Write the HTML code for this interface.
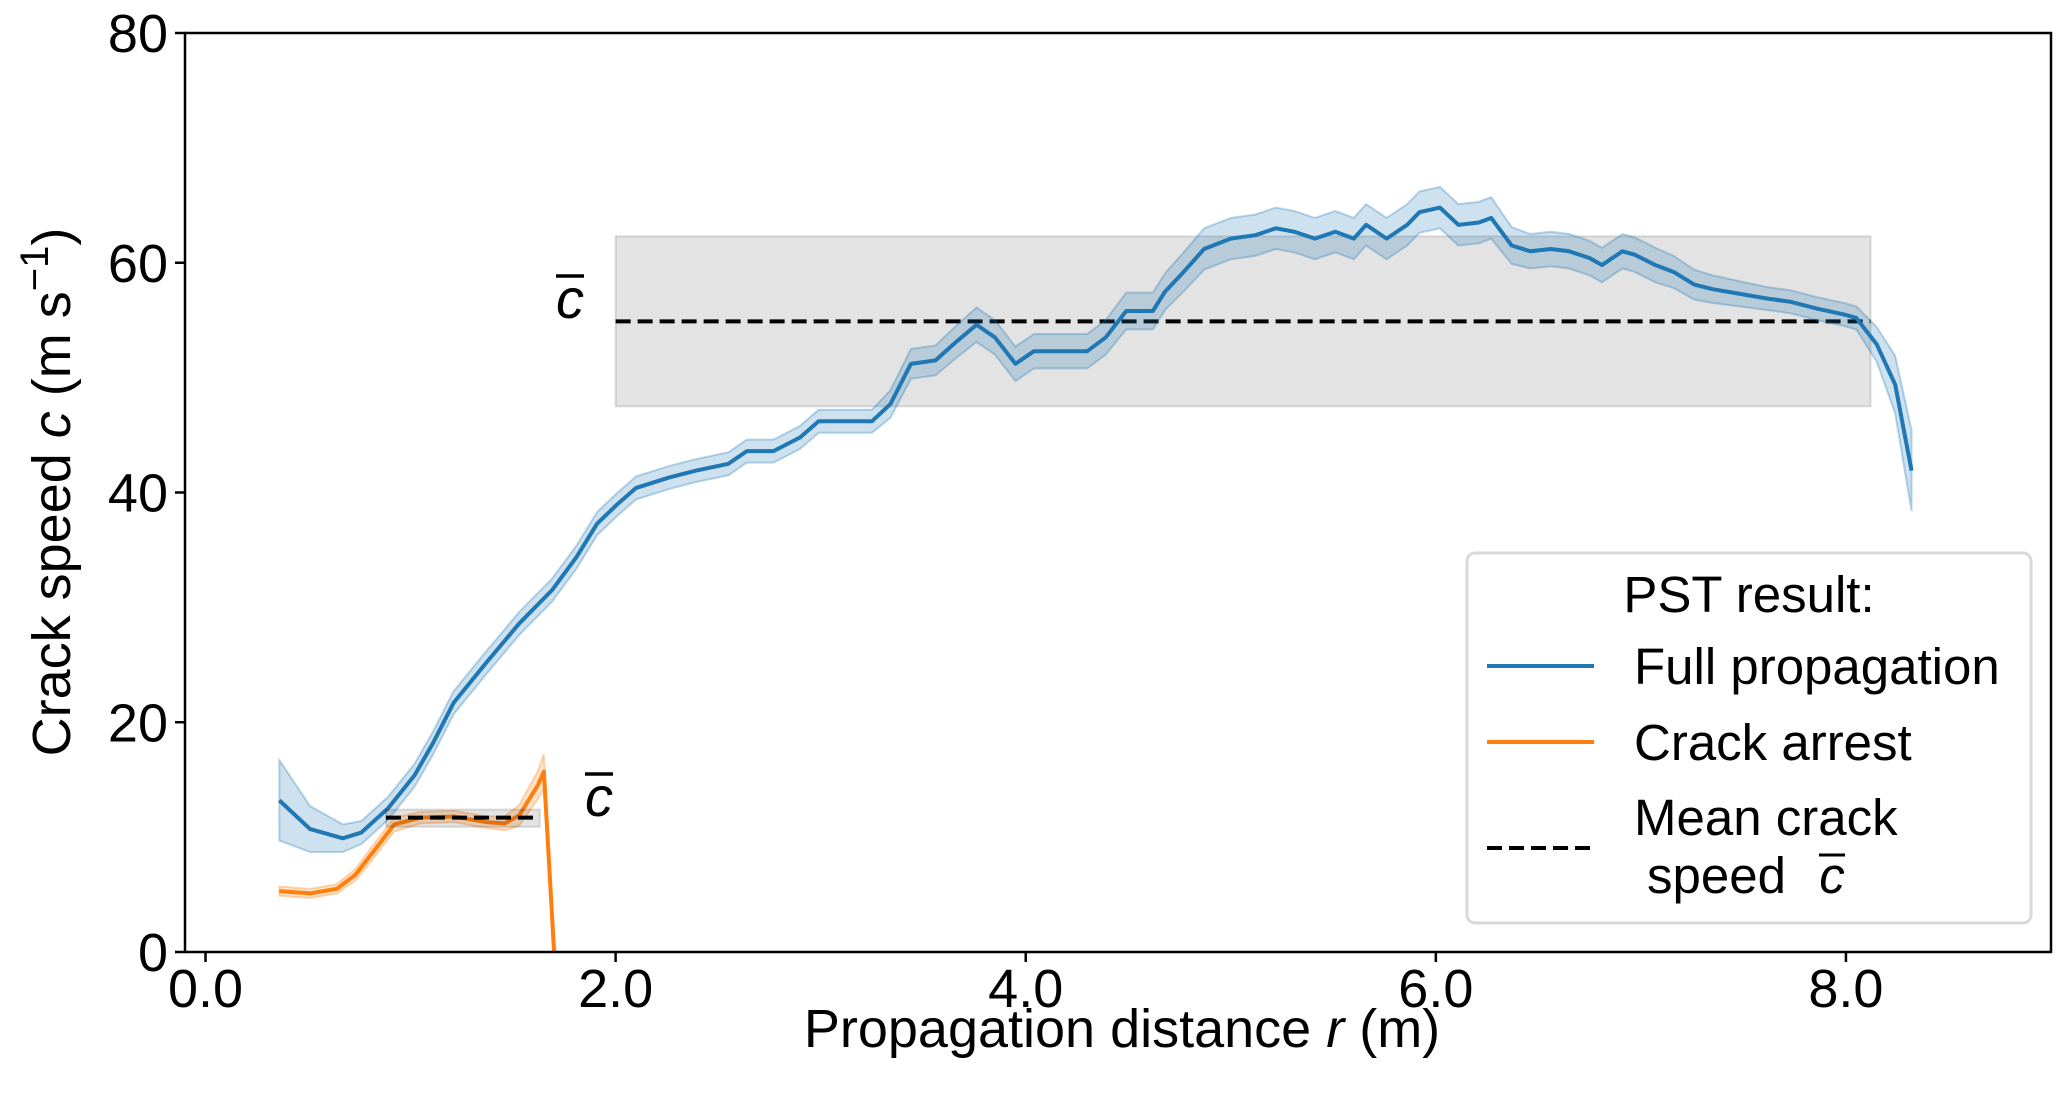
<!DOCTYPE html>
<html><head><meta charset="utf-8"><style>
body{margin:0;background:#fff}
svg{display:block;font-family:"Liberation Sans","DejaVu Sans",sans-serif}
</style></head><body>
<svg id="chart" width="2067" height="1104" viewBox="0 0 2067 1104" style="position:absolute;left:0;top:0">
<rect x="0" y="0" width="2067" height="1104" fill="#fff"/>
<g id="plot"></g>
<g id="axes"></g>
<g id="labels" font-family="Liberation Sans, DejaVu Sans, sans-serif" fill="#000">
<text x="1122" y="1047" font-size="54" text-anchor="middle">Propagation distance <tspan font-style="italic">r</tspan> (m)</text>
<text transform="translate(70,492) rotate(-90)" font-size="54" text-anchor="middle">Crack speed <tspan font-style="italic">c</tspan> (m s<tspan dy="-22" font-size="40">−1</tspan><tspan dy="22">)</tspan></text>
<text x="570" y="318" font-size="56" font-style="italic" text-anchor="middle">c</text>
<line x1="556" y1="276" x2="584" y2="276" stroke="#000" stroke-width="3.5"/>
<text x="599" y="816" font-size="56" font-style="italic" text-anchor="middle">c</text>
<line x1="585" y1="774" x2="613" y2="774" stroke="#000" stroke-width="3.5"/>
<g>
<rect x="1467" y="553" width="564" height="370" rx="8" fill="#fff" stroke="#d9d9d9" stroke-width="3"/>
<text x="1749" y="612" font-size="51" text-anchor="middle">PST result:</text>
<line x1="1487" x2="1594" y1="666" y2="666" stroke="#1f77b4" stroke-width="4"/>
<text x="1634" y="684" font-size="51">Full propagation</text>
<line x1="1487" x2="1594" y1="742" y2="742" stroke="#ff7f0e" stroke-width="4"/>
<text x="1634" y="760" font-size="51">Crack arrest</text>
<line x1="1487" x2="1594" y1="848" y2="848" stroke="#000" stroke-width="4" stroke-dasharray="15,7"/>
<text x="1634" y="835" font-size="51">Mean crack</text>
<text x="1647" y="893" font-size="51">speed</text>
<text x="1832" y="893" font-size="51" font-style="italic" text-anchor="middle">c</text>
<line x1="1819" y1="855" x2="1845" y2="855" stroke="#000" stroke-width="3"/>
</g>
</g>
</svg>
<script>
const fullX=[0.36,0.51,0.67,0.76,0.89,1.02,1.11,1.21,1.37,1.53,1.69,1.81,1.91,2.01,2.10,2.26,2.39,2.55,2.64,2.77,2.90,2.99,3.12,3.25,3.34,3.44,3.56,3.66,3.76,3.85,3.95,4.04,4.17,4.30,4.39,4.49,4.62,4.68,4.77,4.87,5.00,5.12,5.22,5.31,5.41,5.51,5.60,5.66,5.76,5.86,5.92,6.02,6.11,6.21,6.27,6.37,6.46,6.56,6.65,6.75,6.81,6.91,6.97,7.07,7.16,7.26,7.35,7.48,7.61,7.73,7.86,7.99,8.05,8.15,8.24,8.32];
const fullY=[13.2,10.7,9.9,10.4,12.5,15.4,18.2,21.7,25.2,28.6,31.5,34.4,37.3,39,40.4,41.3,41.9,42.5,43.6,43.6,44.8,46.2,46.2,46.2,47.7,51.2,51.5,53.1,54.6,53.5,51.2,52.3,52.3,52.3,53.5,55.8,55.8,57.5,59.2,61.2,62.1,62.4,63,62.7,62.1,62.7,62.1,63.3,62.1,63.3,64.4,64.8,63.3,63.5,63.9,61.5,61,61.2,61,60.4,59.8,61,60.7,59.8,59.2,58.1,57.7,57.3,56.9,56.6,56,55.5,55.2,52.9,49.4,41.9];
const fullBand=[3.5,2,1.2,1,1,1,1,1,1,1,1,1,1,1,1,1,1,1,1,1,1,1,1,1,1.2,1.3,1.3,1.4,1.5,1.5,1.5,1.5,1.5,1.5,1.5,1.6,1.6,1.6,1.7,1.8,1.8,1.8,1.8,1.8,1.8,1.8,1.8,1.8,1.8,1.8,1.8,1.8,1.8,1.8,1.8,1.6,1.5,1.5,1.5,1.5,1.5,1.5,1.5,1.5,1.4,1.3,1.2,1.1,1,1,1,1,1,1.5,2.5,3.5];
const arrestX=[0.36,0.51,0.64,0.73,0.83,0.92,1.05,1.21,1.37,1.46,1.53,1.62,1.65,1.70,1.73];
const arrestY=[5.3,5.1,5.5,6.7,9,11.1,11.7,11.8,11.3,11.2,11.9,14.5,15.7,0,-3];
const arrestBand=[0.4,0.4,0.4,0.5,0.6,0.6,0.5,0.5,0.5,0.6,0.9,1.2,1.5,1,1];
const meanFull=[2.0,8.12,54.9,47.5,62.3];
const meanArrest=[0.88,1.63,11.7,10.9,12.4];
const xTicks=[0,2,4,6,8];
const xTickLabels=["0.0","2.0","4.0","6.0","8.0"];
const yTicks=[0,20,40,60,80];
const yTickLabels=["0","20","40","60","80"];

const L=185,R=2051,T=33,B=952;
const X=v=>L+(v-(-0.1))/(9.0-(-0.1))*(R-L);
const Y=v=>B-(v/80)*(B-T);
const NS="http://www.w3.org/2000/svg";
const plot=document.getElementById('plot'),axes=document.getElementById('axes');
function mk(tag,attrs,parent){const e=document.createElementNS(NS,tag);for(const k in attrs)e.setAttribute(k,attrs[k]);parent.appendChild(e);return e;}

const defs=mk('defs',{},plot);
const cp=mk('clipPath',{id:'clip'},defs);mk('rect',{x:L,y:T,width:R-L,height:B-T},cp);
const g=mk('g',{'clip-path':'url(#clip)'},plot);

function meanBox(m,name){
  const r=mk('rect',{x:X(m[0]),y:Y(m[4]),width:X(m[1])-X(m[0]),height:Y(m[3])-Y(m[4]),fill:'#000','fill-opacity':0.11,stroke:'#000','stroke-opacity':0.12,'stroke-width':2},g);
  
  
  const l=mk('line',{x1:X(m[0]),x2:X(m[1]),y1:Y(m[2]),y2:Y(m[2]),stroke:'#000','stroke-width':4,'stroke-dasharray':'15,7'},g);
  
  
}
function series(xs,ys,bs,color,name){
  let up='',lo='';
  xs.forEach((x,i)=>{up+=(i?'L':'M')+X(x)+','+Y(ys[i]+bs[i]);});
  for(let i=xs.length-1;i>=0;i--)lo+='L'+X(xs[i])+','+Y(ys[i]-bs[i]);
  const b=mk('path',{d:up+lo+'Z',fill:color,'fill-opacity':0.22,stroke:color,'stroke-opacity':0.3,'stroke-width':2},g);
  
  
  const p=mk('path',{d:xs.map((x,i)=>(i?'L':'M')+X(x)+','+Y(ys[i])).join(''),fill:'none',stroke:color,'stroke-width':4,'stroke-linejoin':'round'},g);
  
  
}
meanBox(meanFull,'full-mean');
series(fullX,fullY,fullBand,'#1f77b4','full-propagation');
series(arrestX,arrestY,arrestBand,'#ff7f0e','crack-arrest');
meanBox(meanArrest,'arrest-mean');

mk('rect',{x:L,y:T,width:R-L,height:B-T,fill:'none',stroke:'#000','stroke-width':2.5},axes);
xTicks.forEach((v,i)=>{
  mk('line',{x1:X(v),x2:X(v),y1:B,y2:B+10,stroke:'#000','stroke-width':2.5},axes);
  const t=mk('text',{x:X(v),y:B+55,'font-size':54,'text-anchor':'middle'},axes);t.textContent=xTickLabels[i];
  
  
});
yTicks.forEach((v,i)=>{
  mk('line',{x1:L,x2:L-10,y1:Y(v),y2:Y(v),stroke:'#000','stroke-width':2.5},axes);
  const t=mk('text',{x:L-17,y:Y(v)+19,'font-size':54,'text-anchor':'end'},axes);t.textContent=yTickLabels[i];
  
  
});
</script>
</body></html>
